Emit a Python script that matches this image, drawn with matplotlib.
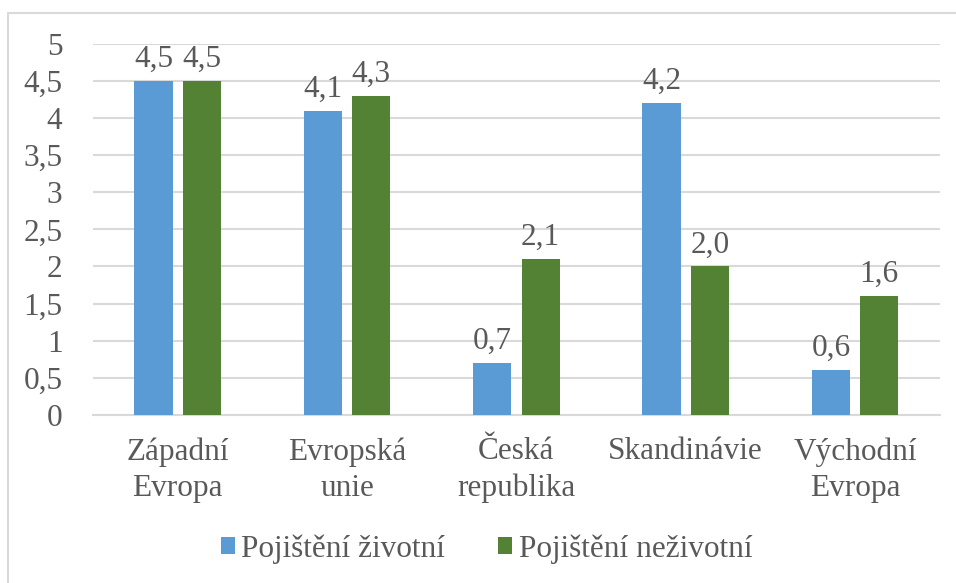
import matplotlib
matplotlib.use('Agg')
import matplotlib.pyplot as plt
import matplotlib.patches as mpatches
import numpy as np

regions = ['Západní\nEvropa', 'Evropská\nunie', 'Česká\nrepublika', 'Skandinávie', 'Východní\nEvropa']
zivotni = [4.5, 4.1, 0.7, 4.2, 0.6]
nezivotni = [4.5, 4.3, 2.1, 2.0, 1.6]
yticks = [0, 0.5, 1, 1.5, 2, 2.5, 3, 3.5, 4, 4.5, 5]

fam = 'Liberation Serif'
fs = 22.5
txt = '#595959'

fig = plt.figure(figsize=(9.56, 5.83), dpi=100)
ax = fig.add_axes([0.0973, 0.2885, 0.8857, 0.636])

# outer frame like the office chart border
fig.patches.append(mpatches.Rectangle((8/956, -0.1), 1.2, 1 - 13/583 + 0.1,
                                      transform=fig.transFigure, fill=False,
                                      edgecolor='#d9d9d9', linewidth=1.5))

x = np.arange(len(regions))
w = 0.225
off = 0.143
b1 = ax.bar(x - off, zivotni, w, color='#5b9bd5', label='Pojištění životní', zorder=3)
b2 = ax.bar(x + off, nezivotni, w, color='#548235', label='Pojištění neživotní', zorder=3)

for bars, vals in ((b1, zivotni), (b2, nezivotni)):
    for r, v in zip(bars, vals):
        ax.text(r.get_x() + r.get_width() / 2, v + 0.19, f'{v:.1f}'.replace('.', ','),
                ha='center', va='baseline', family=fam, fontsize=fs, color=txt)

ax.set_xlim(-0.5, len(regions) - 0.5)
ax.set_ylim(0, 5)
ax.set_yticks(yticks)
ax.set_yticklabels([f'{t:g}'.replace('.', ',') for t in yticks], family=fam, fontsize=fs)
ax.set_xticks(x)
ax.set_xticklabels(regions, linespacing=1.35, family=fam, fontsize=fs)
ax.tick_params(axis='both', length=0, colors=txt)
ax.tick_params(axis='x', pad=16)
ax.tick_params(axis='y', pad=22)
ax.grid(axis='y', color='#d9d9d9', linewidth=1.5, zorder=0)
for s in ['top', 'right', 'left']:
    ax.spines[s].set_visible(False)
ax.spines['bottom'].set_color('#d9d9d9')
ax.spines['bottom'].set_linewidth(1.5)

fig.legend(handles=[b1, b2], loc='center', bbox_to_anchor=(0.509, 1 - 549/583),
           ncol=2, frameon=False, prop={'family': fam, 'size': fs}, labelcolor=txt,
           handlelength=0.45, handleheight=0.45, handletextpad=0.2, columnspacing=1.7)

fig.savefig('out.png', dpi=100)
